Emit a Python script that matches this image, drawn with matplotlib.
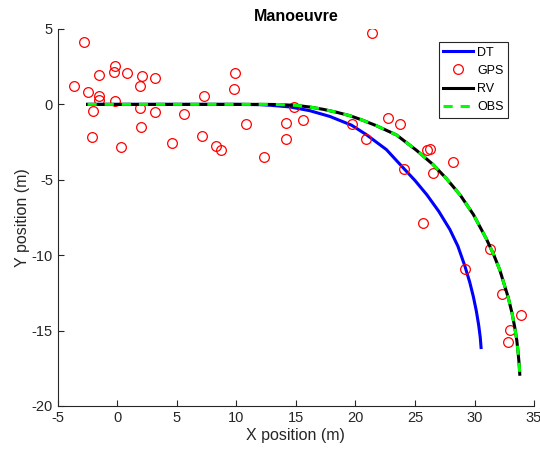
import matplotlib.pyplot as plt

# GPS fixes (noisy)
gps_x = [-2.79, -3.63, -2.48, -1.56, -1.56, -1.56, -2.04, -2.15, -0.17, -0.27,
         -0.17, 0.82, 0.34, 2.10, 1.93, 1.91, 2.02, 3.17, 3.17, 4.62,
         5.63, 7.11, 7.28, 8.31, 8.68, 9.80, 9.88, 10.80, 21.35, 12.29,
         14.14, 14.14, 14.86, 15.59, 19.67, 20.87, 22.72, 23.73, 24.04, 25.97,
         26.25, 26.52, 28.18, 25.69, 29.18, 31.31, 32.29, 33.89, 32.96, 32.82]
gps_y = [4.13, 1.24, 0.80, 1.94, 0.58, 0.26, -0.46, -2.19, 2.54, 2.17,
         0.24, 2.10, -2.85, 1.88, 1.24, -0.24, -1.48, 1.72, -0.53, -2.59,
         -0.62, -2.12, 0.58, -2.79, -3.01, 1.02, 2.10, -1.33, 4.75, -3.51,
         -1.26, -2.28, -0.18, -1.04, -1.33, -2.32, -0.91, -1.33, -4.27, -3.05,
         -2.98, -4.53, -3.80, -7.85, -10.90, -9.57, -12.55, -13.95, -14.97, -15.76]

# dead-reckoning track
dt_x = [-2.5, 5.0, 10.0, 12.0, 12.83, 14.5, 16.17, 17.85, 19.67, 20.9,
        22.6, 24.0, 25.0, 26.0, 27.0, 27.93, 28.6, 29.18, 29.6, 29.9,
        30.15, 30.35, 30.48, 30.55]
dt_y = [0.0, 0.0, 0.0, -0.02, -0.06, -0.17, -0.42, -0.8, -1.38, -2.0,
        -3.0, -4.2, -5.05, -6.0, -7.1, -8.3, -9.4, -10.7, -11.8, -12.75,
        -13.7, -14.65, -15.45, -16.13]

# reference vehicle track / observer estimate
rv_x = [-2.5, 5.0, 10.0, 12.0, 13.5, 15.06, 16.2, 17.3, 18.4, 19.53,
        20.6, 21.77, 23.45, 25.13, 26.5, 27.65, 28.8, 29.9, 31.0, 31.6,
        32.12, 32.82, 33.15, 33.38, 33.55, 33.66, 33.75, 33.8]
rv_y = [0.0, 0.0, 0.0, 0.0, -0.01, -0.07, -0.18, -0.33, -0.52, -0.75,
        -1.05, -1.42, -2.03, -3.05, -3.98, -4.93, -6.02, -7.3, -8.93, -9.95,
        -10.98, -12.78, -13.85, -14.8, -15.65, -16.45, -17.25, -17.9]
obs_x = rv_x
obs_y = rv_y

plt.rcParams['font.family'] = ['Liberation Sans', 'DejaVu Sans']
plt.rcParams['axes.unicode_minus'] = False

fig = plt.figure(figsize=(5.4, 4.53), dpi=100)
ax = fig.add_axes([0.107, 0.104, 0.882, 0.832])

ax.plot(dt_x, dt_y, color='#0000ff', lw=2.2, label='DT')
ax.plot(gps_x, gps_y, 'o', mfc='none', mec='#ff0000', ms=7, mew=0.9, label='GPS')
ax.plot(rv_x, rv_y, color='black', lw=2.2, label='RV')
ax.plot(obs_x, obs_y, color='#00ff00', lw=2.2, ls=(0, (3, 2.6)), label='OBS')

ax.set_xlim(-5, 35)
ax.set_ylim(-20, 5)
ax.set_xticks(range(-5, 36, 5))
ax.set_yticks(range(-20, 6, 5))
ax.spines['top'].set_visible(False)
ax.spines['right'].set_visible(False)
for s in ('left', 'bottom'):
    ax.spines[s].set_color('#262626')
    ax.spines[s].set_linewidth(0.8)
ax.tick_params(direction='in', length=4, width=0.8, colors='#262626',
               labelsize=10.5, labelcolor='#262626')

ax.set_xlabel('X position (m)', fontsize=11.5, color='#262626', labelpad=2)
ax.set_ylabel('Y position (m)', fontsize=11.5, color='#262626', labelpad=1)
ax.set_title('Manoeuvre', fontsize=11.5, fontweight='bold', pad=6)

leg = ax.legend(loc='upper right', bbox_to_anchor=(0.945, 0.965), fontsize=9,
                handlelength=2.4, handletextpad=0.3, borderpad=0.35,
                labelspacing=0.5, fancybox=False, framealpha=1,
                edgecolor='#262626', borderaxespad=0)
leg.get_frame().set_linewidth(0.8)

fig.savefig('out.png', dpi=100)
